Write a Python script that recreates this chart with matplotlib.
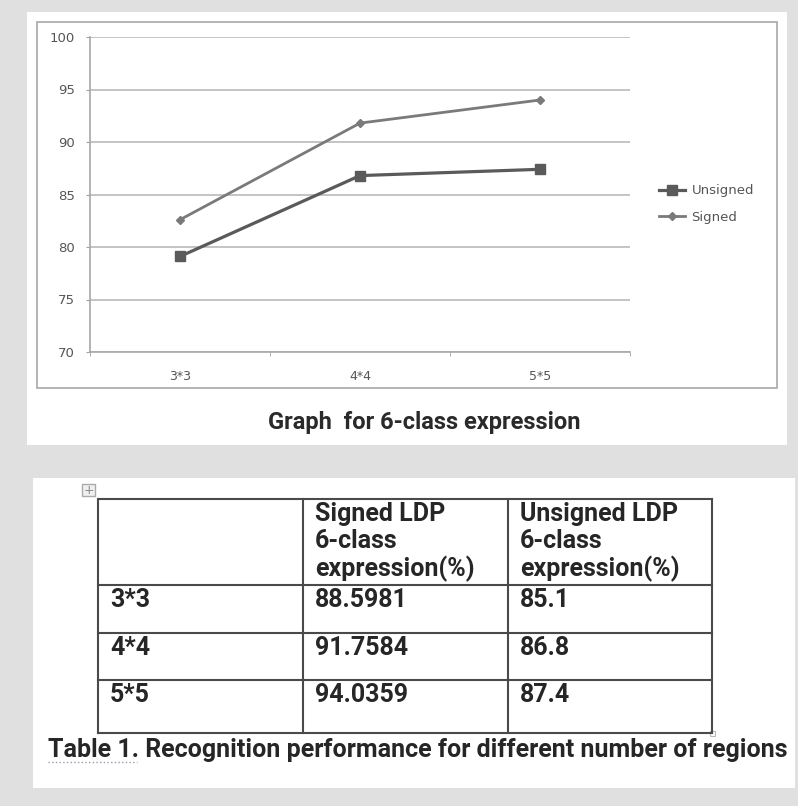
import matplotlib.pyplot as plt
from matplotlib.patches import Rectangle

# chart data
regions = ['3*3', '4*4', '5*5']
unsigned_acc = [79.1, 86.8, 87.4]
signed_acc = [82.6, 91.8, 94.0]

# table data
table_header = ['', 'Signed LDP\n6-class\nexpression(%)', 'Unsigned LDP\n6-class\nexpression(%)']
table_signed = ['88.5981', '91.7584', '94.0359']
table_unsigned = ['85.1', '86.8', '87.4']

W, H = 798, 806
fig = plt.figure(figsize=(W / 100, H / 100), dpi=100)
fig.patch.set_facecolor('#e0e0e0')


def box(x0, y0, x1, y1):
    # pixel box -> figure fraction
    return [x0 / W, 1 - y1 / H, (x1 - x0) / W, (y1 - y0) / H]


# overlay in pixel coords for panels, frame, table
ov = fig.add_axes([0, 0, 1, 1])
ov.set_xlim(0, W)
ov.set_ylim(H, 0)
ov.axis('off')
ov.set_zorder(0)

ov.add_patch(Rectangle((27, 12), 760, 433, facecolor='white', edgecolor='none'))
ov.add_patch(Rectangle((33, 478), 762, 310, facecolor='white', edgecolor='none'))
ov.add_patch(Rectangle((37, 22), 740, 366, facecolor='none', edgecolor='#a8a8a8', lw=1.2))

# line chart
ax = fig.add_axes(box(90, 37, 630, 352))
ax.set_zorder(1)
ax.set_facecolor('none')
ax.plot(range(len(regions)), unsigned_acc, color='#5a5a5a', lw=2.3, marker='s', ms=7, label='Unsigned')
ax.plot(range(len(regions)), signed_acc, color='#7a7a7a', lw=2.0, marker='D', ms=4, label='Signed')
ax.set_xlim(-0.5, 2.5)
ax.set_ylim(70, 100)
ax.set_yticks(range(70, 101, 5))
ax.set_xticks(range(len(regions)))
ax.set_xticklabels(regions)
ax.set_xticks([-0.5, 0.5, 1.5, 2.5], minor=True)
ax.tick_params(axis='x', which='major', length=0, pad=13, labelsize=9, labelcolor='#555555')
ax.tick_params(axis='x', which='minor', length=3, color='#a0a0a0')
ax.tick_params(axis='y', length=3, color='#a0a0a0', labelsize=9.5, labelcolor='#555555', pad=8)
ax.grid(axis='y', color='#c4c4c4', lw=1.4)
ax.set_axisbelow(True)
for s in ['top', 'right']:
    ax.spines[s].set_visible(False)
for s in ['left', 'bottom']:
    ax.spines[s].set_color('#a8a8a8')
    ax.spines[s].set_linewidth(1.2)

ax.legend(loc='center left', bbox_to_anchor=(652 / W, 1 - 204 / H), bbox_transform=fig.transFigure,
          frameon=False, fontsize=9.5, handlelength=2.0, labelspacing=1.0, handletextpad=0.5,
          borderpad=0, labelcolor='#555555')

ov.text(424, 422, 'Graph  for 6-class expression', ha='center', va='center',
        fontsize=17, fontweight='bold', family='Roboto', color='#2a2a2a')

# table
tx = [98, 303, 508, 712]
ty = [499, 585, 633, 680, 733]
lc = '#4a4a4a'
for x in tx:
    ov.plot([x, x], [ty[0], ty[-1]], color=lc, lw=1.5)
for y in ty:
    ov.plot([tx[0], tx[-1]], [y, y], color=lc, lw=1.5)

tfont = dict(fontsize=18, fontweight='bold', family='Roboto', color='#262626')
ov.text(tx[1] + 12, (ty[0] + ty[1]) / 2, table_header[1], ha='left', va='center', linespacing=1.15, **tfont)
ov.text(tx[2] + 12, (ty[0] + ty[1]) / 2, table_header[2], ha='left', va='center', linespacing=1.15, **tfont)
for i in range(len(regions)):
    yy = ty[i + 1] + 15
    ov.text(tx[0] + 12, yy, regions[i], ha='left', va='center', **tfont)
    ov.text(tx[1] + 12, yy, table_signed[i], ha='left', va='center', **tfont)
    ov.text(tx[2] + 12, yy, table_unsigned[i], ha='left', va='center', **tfont)

# table move handle
ov.add_patch(Rectangle((82, 484), 13, 12, facecolor='#f0f0f0', edgecolor='#aaaaaa', lw=1))
ov.text(88.5, 490, '+', ha='center', va='center', fontsize=9, color='#888888')
ov.add_patch(Rectangle((710, 731), 5, 5, facecolor='white', edgecolor='#bbbbbb', lw=0.8))

ov.text(48, 750, 'Table 1. Recognition performance for different number of regions', ha='left',
        va='center', **tfont)
ov.plot([48, 137], [762, 762], color='#9a9aaa', lw=1, ls=':')

fig.savefig('out.png', dpi=100, facecolor=fig.get_facecolor())
